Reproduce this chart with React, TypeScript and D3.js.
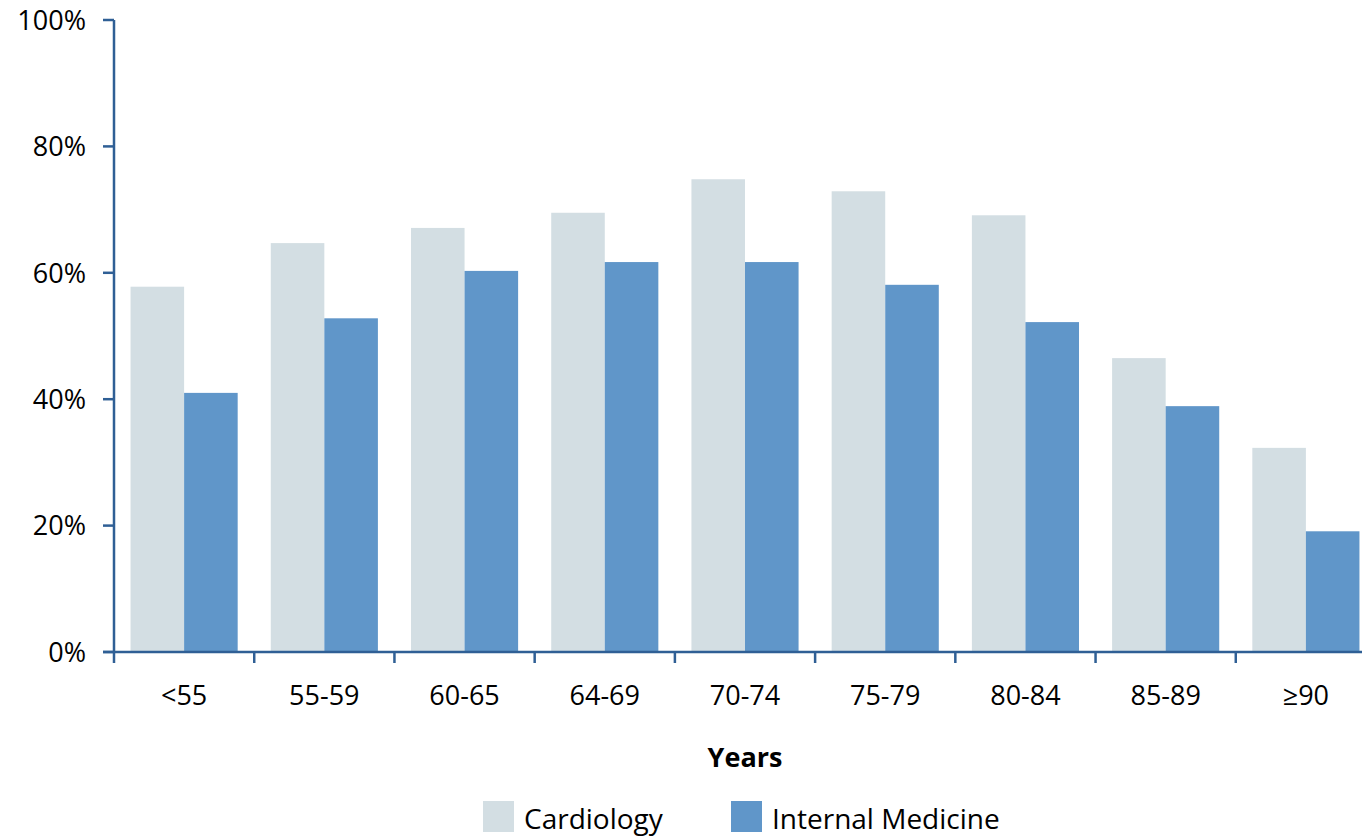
import React from "react";
import * as d3 from "d3";

const categories = ["<55", "55-59", "60-65", "64-69", "70-74", "75-79", "80-84", "85-89", "≥90"];
const seriesNames = ["Cardiology", "Internal Medicine"];
const cardiology = [57.8, 64.7, 67.1, 69.5, 74.8, 72.9, 69.1, 46.5, 32.3];
const internalMedicine = [41.0, 52.8, 60.3, 61.7, 61.7, 58.1, 52.2, 38.9, 19.1];
const yTicks = [0, 20, 40, 60, 80, 100];

const colors = ["#D3DEE3", "#6096C9"];
const axisColor = "#2F5F95";
const font = "'Open Sans', 'Noto Sans', sans-serif";

export default function App() {
  const width = 1362;
  const height = 837;
  const left = 114;
  const top = 20;
  const bottom = 652;
  const right = 1376;

  const x0 = d3.scaleBand<string>().domain(categories).range([left, right]).paddingInner(0.236).paddingOuter(0.118);
  const x1 = d3.scaleBand<string>().domain(seriesNames).range([0, x0.bandwidth()]);
  const y = d3.scaleLinear().domain([0, 100]).range([bottom, top]);
  const series = [cardiology, internalMedicine];
  const step = x0.step();

  return (
    <svg width={width} height={height} style={{ position: "absolute", left: 0, top: 0 }} fontFamily={font}>
      <rect width={width} height={height} fill="#fff" />
      {categories.map((c, i) =>
        series.map((vals, s) => (
          <rect
            key={c + s}
            x={(x0(c) as number) + (x1(seriesNames[s]) as number)}
            y={y(vals[i])}
            width={x1.bandwidth()}
            height={bottom - y(vals[i])}
            fill={colors[s]}
          />
        ))
      )}
      {/* y axis */}
      <line x1={left} x2={left} y1={top} y2={bottom} stroke={axisColor} strokeWidth={2.5} />
      {yTicks.map((t) => (
        <g key={t}>
          <line x1={left - 11} x2={left} y1={y(t)} y2={y(t)} stroke={axisColor} strokeWidth={2.5} />
          <text x={86} y={y(t)} dy="0.36em" textAnchor="end" fontSize={27} fill="#000">
            {t}%
          </text>
        </g>
      ))}
      {/* x axis */}
      <line x1={left - 11} x2={width} y1={bottom} y2={bottom} stroke={axisColor} strokeWidth={2.5} />
      {d3.range(categories.length + 1).map((i) => (
        <line key={i} x1={left + i * step} x2={left + i * step} y1={bottom} y2={bottom + 11} stroke={axisColor} strokeWidth={2.5} />
      ))}
      {categories.map((c) => (
        <text key={c} x={(x0(c) as number) + x0.bandwidth() / 2} y={705} textAnchor="middle" fontSize={27} fill="#000">
          {c}
        </text>
      ))}
      <text x={745} y={767} textAnchor="middle" fontSize={27} fontWeight="bold" fill="#000">
        Years
      </text>
      {seriesNames.map((n, s) => {
        const lx = [483, 731][s];
        return (
          <g key={n}>
            <rect x={lx} y={801} width={31} height={31} fill={colors[s]} />
            <text x={lx + 41} y={829} fontSize={28} fill="#000">
              {n}
            </text>
          </g>
        );
      })}
    </svg>
  );
}
